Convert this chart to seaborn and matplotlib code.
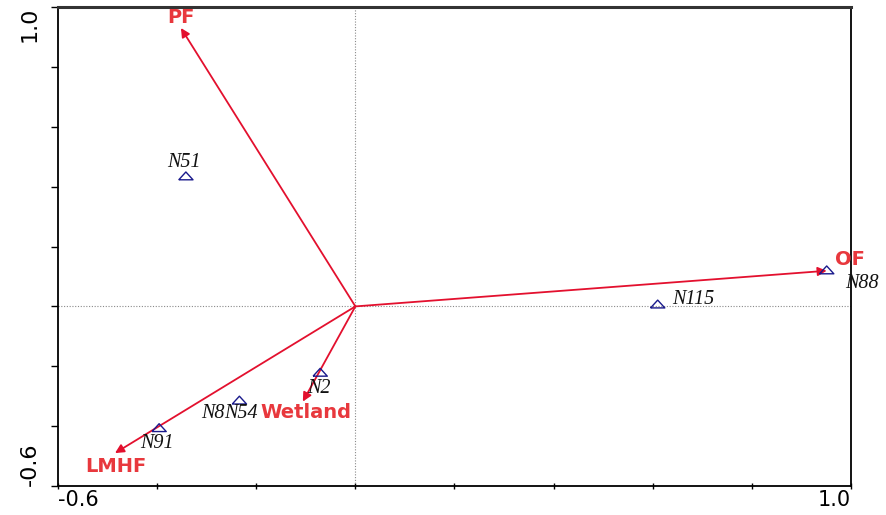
import matplotlib
matplotlib.use("Agg")
import matplotlib.pyplot as plt
import seaborn as sns
import pandas as pd

# Environmental variables (arrow tips) and sample scores on the first two axes
env_names = ["PF", "OF", "LMHF", "Wetland"]
env_x = [-0.352, 0.951, -0.485, -0.106]
env_y = [0.930, 0.119, -0.490, -0.318]

site_names = ["N51", "N88", "N115", "N2", "N8", "N54", "N91"]
site_x = [-0.342, 0.951, 0.610, -0.071, -0.234, -0.234, -0.396]
site_y = [0.436, 0.122, 0.008, -0.220, -0.313, -0.313, -0.405]

tick_values = [-0.6, -0.4, -0.2, 0.0, 0.2, 0.4, 0.6, 0.8, 1.0]
end_labels = ["-0.6", "1.0"]

sns.set_theme(style="white")
plt.rcParams["font.family"] = ["DejaVu Sans"]

fig = plt.figure(figsize=(8.87, 5.15), dpi=100)
ax = fig.add_axes([0.0654, 0.0563, 0.894, 0.930])

sites = pd.DataFrame({"site": site_names, "x": site_x, "y": site_y})

# zero reference lines
ax.axvline(0, color="#8a8a8a", lw=0.8, ls=(0, (1, 1.5)), zorder=1)
ax.axhline(0, color="#8a8a8a", lw=0.8, ls=(0, (1, 1.5)), zorder=1)

# environmental arrows
arrow_col = "#e3102e"
label_col = "#e8383d"
for ex, ey in zip(env_x, env_y):
    ax.annotate("", xy=(ex, ey), xytext=(0, 0),
                arrowprops=dict(arrowstyle="-|>", color=arrow_col, lw=1.3,
                                mutation_scale=13, shrinkA=0, shrinkB=0),
                zorder=3)

# label offsets in pixels (text centre, baseline) from the arrow tip
env_offsets = {"PF": (0, 5), "OF": (23, 6), "LMHF": (1, -19),
               "Wetland": (3, -16)}
for nm, ex, ey in zip(env_names, env_x, env_y):
    dx, dy = env_offsets[nm]
    ax.annotate(nm, xy=(ex, ey), xytext=(dx, dy), textcoords="offset pixels",
                ha="center", va="baseline", color=label_col, fontsize=14,
                fontweight="bold", zorder=4)

# sample points: flat open triangles
tri = [(-1, -0.55), (1, -0.55), (0, 0.55), (-1, -0.55)]
sns.scatterplot(data=sites.drop_duplicates(["x", "y"]), x="x", y="y", ax=ax,
                marker=tri, s=105, facecolor="none", edgecolor="#1a1a8c",
                linewidth=1.0, zorder=5, legend=False)

site_offsets = {"N51": (-2, 9), "N88": (35, -18), "N115": (36, 0),
                "N2": (-1, -21), "N8": (-27, -18), "N54": (2, -18),
                "N91": (-2, -20)}
for nm, sx, sy in zip(site_names, site_x, site_y):
    dx, dy = site_offsets[nm]
    ax.annotate(nm, xy=(sx, sy), xytext=(dx, dy), textcoords="offset pixels",
                ha="center", va="baseline", fontsize=14.5, fontstyle="italic",
                family=["Liberation Serif", "DejaVu Serif"], color="#111111",
                zorder=6)

ax.set_xlim(-0.6, 1.0)
ax.set_ylim(-0.6, 1.0)
ax.set_xlabel("")
ax.set_ylabel("")

xt_labels = [end_labels[0]] + [""] * (len(tick_values) - 2) + [end_labels[1]]
ax.set_xticks(tick_values)
ax.set_xticklabels(xt_labels, fontsize=15)
ax.set_yticks(tick_values)
ax.set_yticklabels(xt_labels, fontsize=16, rotation=90)
xl = ax.get_xticklabels()
xl[0].set_ha("left")
xl[-1].set_ha("right")
yl = ax.get_yticklabels()
yl[0].set_va("bottom")
yl[-1].set_va("top")

ax.tick_params(axis="x", direction="inout", length=4, width=1.0,
               color="black", labelcolor="black", pad=1, bottom=True)
ax.tick_params(axis="y", direction="out", length=5, width=1.0,
               color="black", labelcolor="black", pad=8, left=True)

for side in ["left", "bottom", "right", "top"]:
    ax.spines[side].set_visible(True)
    ax.spines[side].set_color("black")
    ax.spines[side].set_linewidth(1.3)
ax.spines["top"].set_linewidth(2.2)
ax.spines["top"].set_color("#333333")

fig.savefig("out.png", dpi=100)
